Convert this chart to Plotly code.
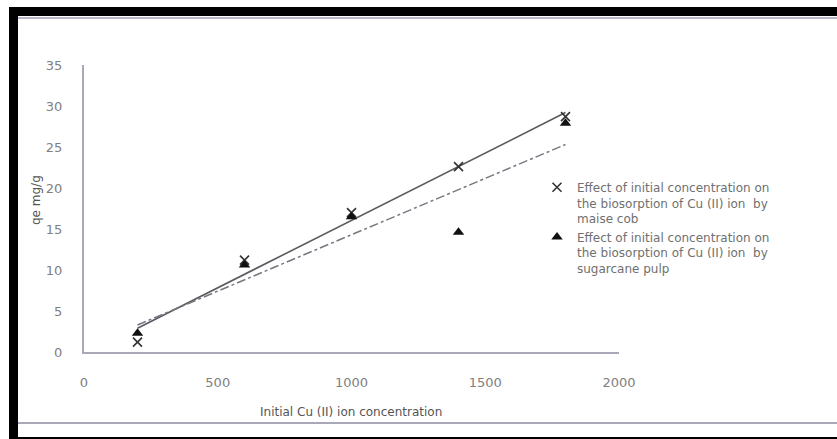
import plotly.graph_objects as go

# ---- data ----
conc = [200, 600, 1000, 1400, 1800]
maize_qe = [1.2, 11.2, 17.0, 22.6, 28.7]
sugar_qe = [2.3, 10.6, 16.5, 14.6, 27.9]
trend_x = [200, 1800]
maize_trend = [2.9, 29.2]
sugar_trend = [3.3, 25.3]
x_ticks = [0, 500, 1000, 1500, 2000]
y_ticks = [0, 5, 10, 15, 20, 25, 30, 35]

maize_name = "Effect of initial concentration on<br>the biosorption of Cu (II) ion  by<br>maise cob"
sugar_name = "Effect of initial concentration on<br>the biosorption of Cu (II) ion  by<br>sugarcane pulp"

W, H = 837, 439
FONT = "'DejaVu Sans', sans-serif"

fig = go.Figure()

fig.add_trace(go.Scatter(x=trend_x, y=maize_trend, mode="lines",
                         line=dict(color="#5a5a62", width=1.6), showlegend=False, hoverinfo="skip"))
fig.add_trace(go.Scatter(x=trend_x, y=sugar_trend, mode="lines",
                         line=dict(color="#777780", width=1.5, dash="dashdot"), showlegend=False, hoverinfo="skip"))
fig.add_trace(go.Scatter(x=conc, y=maize_qe, mode="markers", name=maize_name, legendgroup="a",
                         marker=dict(symbol="x-thin-open", size=9, line=dict(color="#333", width=1.6), color="#333")))
fig.add_trace(go.Scatter(x=conc, y=sugar_qe, mode="markers", name=sugar_name, legendgroup="b",
                         marker=dict(symbol="triangle-up", size=10, color="#111")))

px = lambda v: v / W
py = lambda v: 1 - v / H

shapes = [
    dict(type="rect", xref="paper", yref="paper", x0=px(10), x1=1, y0=py(16), y1=py(7),
         fillcolor="black", line=dict(width=0)),
    dict(type="rect", xref="paper", yref="paper", x0=px(9), x1=px(18), y0=0, y1=py(7),
         fillcolor="black", line=dict(width=0)),
    dict(type="rect", xref="paper", yref="paper", x0=px(9), x1=1, y0=0, y1=py(437),
         fillcolor="black", line=dict(width=0)),
    dict(type="line", xref="paper", yref="paper", x0=px(18), x1=1, y0=py(18), y1=py(18),
         line=dict(color="#b8b8c8", width=2)),
    dict(type="line", xref="paper", yref="paper", x0=px(18), x1=1, y0=py(423), y1=py(423),
         line=dict(color="#a8a8b8", width=2)),
]

fig.update_layout(
    width=W, height=H,
    margin=dict(l=0, r=0, t=0, b=0),
    paper_bgcolor="white", plot_bgcolor="white",
    template="none",
    font=dict(family=FONT, color="#666", size=12),
    shapes=shapes,
    xaxis=dict(domain=[px(84), px(619)], range=[0, 2000], tickvals=x_ticks,
               showgrid=False, zeroline=False, showline=True, linecolor="#a8a8b8", linewidth=2,
               ticks="", ticklabelstandoff=17, automargin=False,
               tickfont=dict(size=13, color="#808080")),
    yaxis=dict(domain=[py(352), py(65)], range=[0, 35], tickvals=y_ticks,
               showgrid=False, zeroline=False, showline=True, linecolor="#a8a8b8", linewidth=2,
               ticks="", ticklabelstandoff=17, automargin=False,
               tickfont=dict(size=13, color="#808080")),
    legend=dict(x=px(537), y=py(173), xanchor="left", yanchor="top", valign="top",
                bgcolor="rgba(0,0,0,0)", font=dict(size=12, color="#707070", family=FONT),
                tracegroupgap=0, itemwidth=30),
    annotations=[
        dict(text="Initial Cu (II) ion concentration", xref="paper", yref="paper",
             x=px(351), y=py(412), yanchor="middle", showarrow=False,
             font=dict(size=12, color="#555", family=FONT)),
        dict(text="qe mg/g", xref="paper", yref="paper", textangle=-90,
             x=px(27), y=py(200), showarrow=False, font=dict(size=12, color="#555", family=FONT)),
    ],
)

fig.write_html("out.html", post_script="document.body.style.margin='0';",
               config={"displayModeBar": False})
